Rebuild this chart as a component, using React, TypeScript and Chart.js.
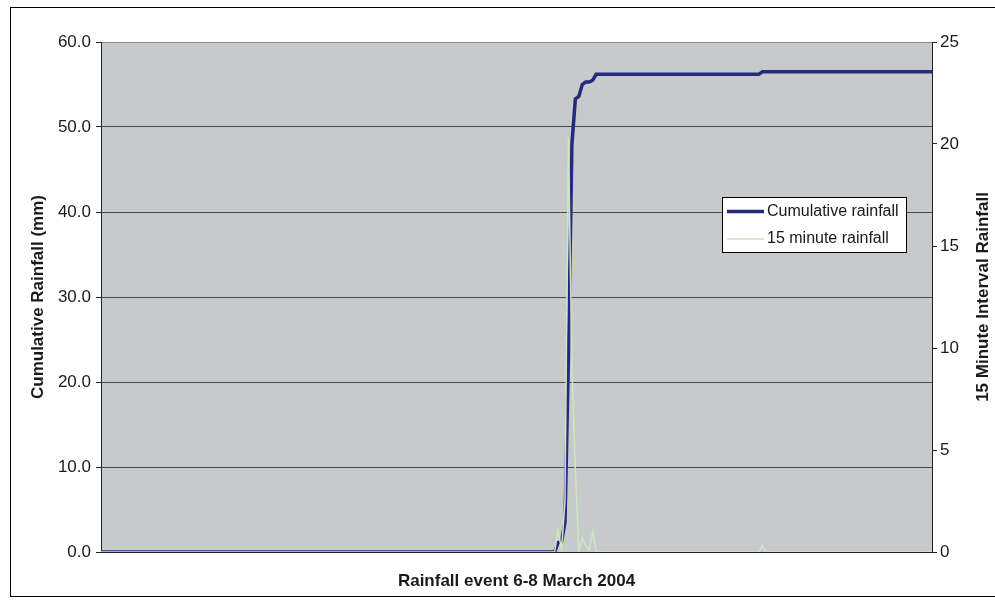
import React, { useEffect, useRef } from "react";
import { Chart, registerables } from "chart.js";

Chart.register(...registerables);

// 15-minute interval index from start of 6 March 2004
const intervalIndex = [0, 130, 131, 132, 133, 134, 135, 136, 137, 138, 139, 140, 141, 142, 143, 144, 190, 191, 192, 240];
const cumulativeRainfall = [0, 0, 0, 1.1, 1.2, 3.5, 23, 48, 53.3, 53.6, 55.0, 55.3, 55.3, 55.5, 56.2, 56.2, 56.2, 56.5, 56.5, 56.5];
const intervalRainfall = [0, 0, 0, 1.1, 0.1, 2.5, 20.3, 9, 4, 0, 0.7, 0.3, 0.1, 1.0, 0, 0, 0, 0.3, 0, 0];

const leftTicks = [0, 10, 20, 30, 40, 50, 60];
const rightTicks = [0, 5, 10, 15, 20, 25];

const seriesNames = ["Cumulative rainfall", "15 minute rainfall"];
const xTitle = "Rainfall event 6-8 March 2004";
const yLeftTitle = "Cumulative Rainfall (mm)";
const yRightTitle = "15 Minute Interval Rainfall";

const FONT = "'Liberation Sans', Arial, Helvetica, sans-serif";
const BLUE = "#262a7c";
const GREEN = "#cde6c4";
const PLOT_BG = "#c8c9cb";

const decorPlugin = {
  id: "decor",
  beforeDraw(chart: any) {
    const { ctx, chartArea } = chart;
    ctx.save();
    ctx.fillStyle = "#ffffff";
    ctx.fillRect(0, 0, chart.width, chart.height);
    ctx.fillStyle = PLOT_BG;
    ctx.fillRect(chartArea.left, chartArea.top, chartArea.right - chartArea.left, chartArea.bottom - chartArea.top);
    ctx.restore();
  },
  afterDraw(chart: any) {
    const { ctx, chartArea } = chart;
    ctx.save();
    // outer border
    ctx.strokeStyle = "#000";
    ctx.lineWidth = 1;
    ctx.strokeRect(10.5, 7.5, 995, 589);

    ctx.fillStyle = "#1a1a1a";
    ctx.font = `bold 17px ${FONT}`;
    ctx.textAlign = "center";
    ctx.textBaseline = "middle";
    const midY = (chartArea.top + chartArea.bottom) / 2;
    // x title
    ctx.fillText(xTitle, (chartArea.left + chartArea.right) / 2, 581);
    // left title
    ctx.save();
    ctx.translate(38, midY);
    ctx.rotate(-Math.PI / 2);
    ctx.fillText(yLeftTitle, 0, 0);
    ctx.restore();
    // right title
    ctx.save();
    ctx.translate(983, midY);
    ctx.rotate(-Math.PI / 2);
    ctx.fillText(yRightTitle, 0, 0);
    ctx.restore();

    // legend
    const lx = 722, ly = 197, lw = 184, lh = 55;
    ctx.fillStyle = "#ffffff";
    ctx.fillRect(lx, ly, lw, lh);
    ctx.strokeStyle = "#000";
    ctx.lineWidth = 1;
    ctx.strokeRect(lx + 0.5, ly + 0.5, lw, lh);
    const rows = [
      { color: BLUE, width: 3.5, y: 211.5 },
      { color: GREEN, width: 1.5, y: 239 },
    ];
    ctx.font = `16px ${FONT}`;
    ctx.textAlign = "left";
    rows.forEach((r, i) => {
      ctx.strokeStyle = r.color;
      ctx.lineWidth = r.width;
      ctx.beginPath();
      ctx.moveTo(727, r.y);
      ctx.lineTo(764, r.y);
      ctx.stroke();
      ctx.fillStyle = "#1a1a1a";
      ctx.fillText(seriesNames[i], 767, r.y);
    });
    ctx.restore();
  },
};

export default function App() {
  const canvasRef = useRef<HTMLCanvasElement | null>(null);

  useEffect(() => {
    const canvas = canvasRef.current;
    if (!canvas) return;
    const cumData = intervalIndex.map((x, i) => ({ x, y: cumulativeRainfall[i] }));
    const intData = intervalIndex.map((x, i) => ({ x, y: intervalRainfall[i] }));
    const chart = new Chart(canvas, {
      type: "line",
      data: {
        datasets: [
          {
            label: seriesNames[0],
            data: cumData,
            yAxisID: "y",
            borderColor: BLUE,
            borderWidth: 3.5,
            pointRadius: 0,
            tension: 0,
            order: 1,
          },
          {
            label: seriesNames[1],
            data: intData,
            yAxisID: "y1",
            borderColor: GREEN,
            borderWidth: 1.5,
            pointRadius: 0,
            tension: 0,
            order: 0,
          },
        ],
      },
      options: {
        responsive: false,
        animation: false,
        devicePixelRatio: 1,
        layout: { padding: { top: 42, left: 0, right: 0, bottom: 0 } },
        plugins: {
          legend: { display: false },
          tooltip: { enabled: false },
        },
        scales: {
          x: {
            type: "linear",
            min: intervalIndex[0],
            max: intervalIndex[intervalIndex.length - 1],
            ticks: { display: false },
            grid: { display: false, drawTicks: false },
            border: { display: true, color: "#222", width: 1 },
            afterFit: (s: any) => {
              s.height = 52;
            },
          },
          y: {
            type: "linear",
            position: "left",
            min: 0,
            max: 60,
            afterBuildTicks: (s: any) => {
              s.ticks = leftTicks.map((v) => ({ value: v }));
            },
            ticks: {
              font: { family: FONT, size: 17 },
              color: "#1a1a1a",
              padding: 5,
              callback: (v: any) => Number(v).toFixed(1),
            },
            grid: {
              color: (c: any) => (c.tick && c.tick.value === 60 ? "#8a8a8a" : "#4a4a4a"),
              tickColor: "#222",
              tickLength: 5,
              lineWidth: 1,
            },
            border: { display: true, color: "#222", width: 1 },
            afterFit: (s: any) => {
              s.width = 101;
            },
          },
          y1: {
            type: "linear",
            position: "right",
            min: 0,
            max: 25,
            afterBuildTicks: (s: any) => {
              s.ticks = rightTicks.map((v) => ({ value: v }));
            },
            ticks: {
              font: { family: FONT, size: 17 },
              color: "#1a1a1a",
              padding: 3,
            },
            grid: {
              drawOnChartArea: false,
              color: "#222",
              tickLength: 5,
            },
            border: { display: true, color: "#222", width: 1 },
            afterFit: (s: any) => {
              s.width = 63;
            },
          },
        },
      },
      plugins: [decorPlugin],
    });
    return () => chart.destroy();
  }, []);

  return (
    <div style={{ position: "fixed", left: 0, top: 0, width: 995, height: 604, background: "#fff" }}>
      <canvas ref={canvasRef} width={995} height={604} style={{ display: "block" }} />
    </div>
  );
}
